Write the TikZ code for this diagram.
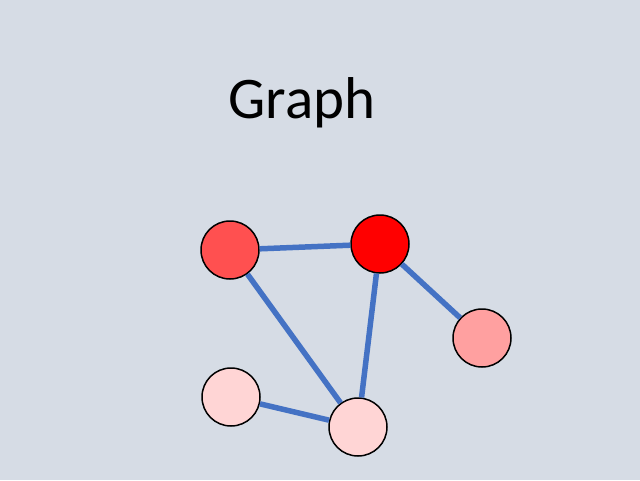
\documentclass[tikz,border=0pt]{standalone}
\usepackage{fontspec}
\setmainfont{Carlito}
\definecolor{slidebg}{HTML}{D6DCE5}
\definecolor{edgeblue}{HTML}{4472C4}
\definecolor{nodeA}{HTML}{FF5050}
\definecolor{nodeB}{HTML}{FF0000}
\definecolor{nodeC}{HTML}{FFA0A0}
\definecolor{nodeD}{HTML}{FFD5D5}
\tikzset{
    vertex/.style={circle, draw=black, line width=1.5pt, minimum size=58pt, inner sep=0pt},
    edge/.style={edgeblue, line width=5.5pt}
}
\begin{document}
\begin{tikzpicture}[x=1pt, y=-1pt]
            \fill[slidebg] (0, 0) rectangle (640, 480);
            \useasboundingbox (0, 0) rectangle (640, 480);
            \node[anchor=base, font=\fontsize{59}{68}\selectfont] (title) at (302, 118) {Graph};
            % Vertices
            \node[vertex, fill=nodeA] (a) at (230, 250) {};
            \node[vertex, fill=nodeB] (b) at (380, 244) {};
            \node[vertex, fill=nodeC] (c) at (482, 338) {};
            \node[vertex, fill=nodeD] (d) at (231, 397) {};
            \node[vertex, fill=nodeD] (e) at (358, 427) {};
            % Edges
            \draw[edge] (a) -- (b);
            \draw[edge] (b) -- (c);
            \draw[edge] (a) -- (e);
            \draw[edge] (b) -- (e);
            \draw[edge] (d) -- (e);
        \end{tikzpicture}
\end{document}
